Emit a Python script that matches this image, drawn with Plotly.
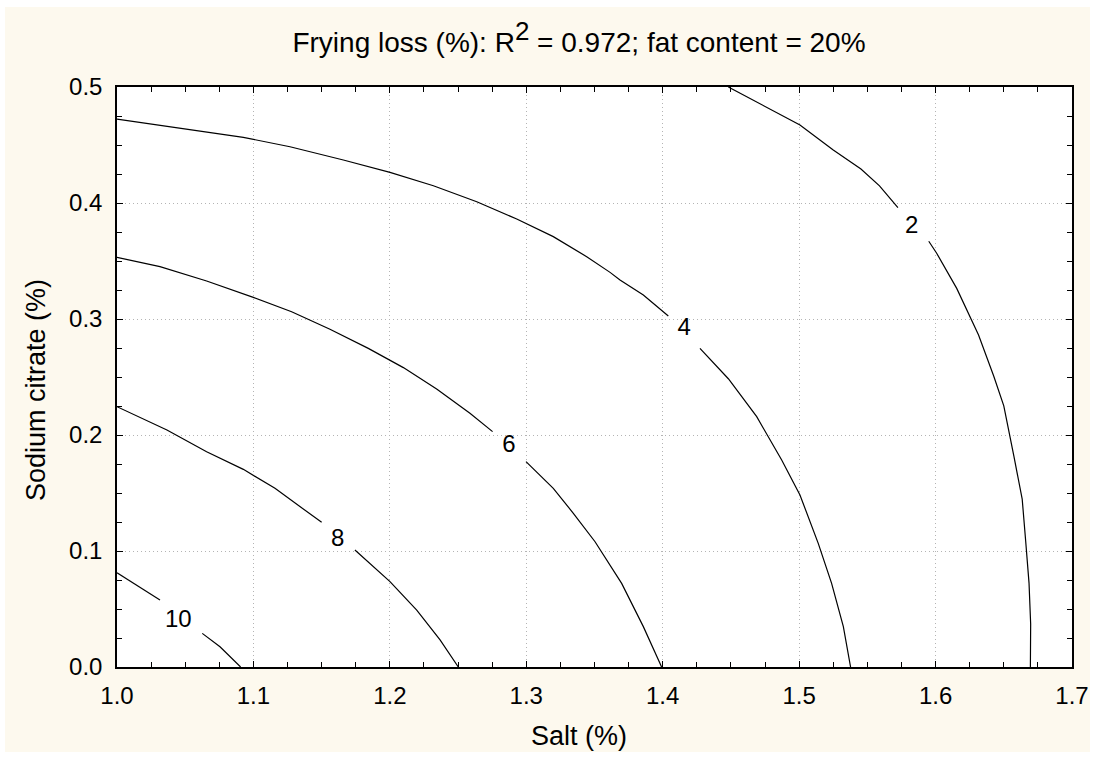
import plotly.graph_objects as go

# ---- data (None = gap for the label) ----
c2_x = [1.4481, 1.5006, 1.5250, 1.5293, 1.5453, 1.5589, 1.5724, None,
        1.5950, 1.6007, 1.6155, 1.6315, 1.6426, 1.6500, 1.6574, 1.6635, 1.6660, 1.6685, 1.6697, 1.6695]
c2_y = [0.5000, 0.4672, 0.4457, 0.4421, 0.4293, 0.4148, 0.3961, None,
        0.3670, 0.3569, 0.3264, 0.2862, 0.2508, 0.2251, 0.1817, 0.1447, 0.1093, 0.0723, 0.0370, 0.0]

c4_x = [1.0000, 1.0926, 1.1268, 1.1659, 1.2001, 1.2319, 1.2637, 1.2930, 1.3198, 1.3443, 1.3614,
        1.3687, 1.3858, 1.4041, None,
        1.4273, 1.4481, 1.4689, 1.4872, 1.5006, 1.5140, 1.5238, 1.5324, 1.5377]
c4_y = [0.4724, 0.4566, 0.4485, 0.4371, 0.4264, 0.4149, 0.4011, 0.3862, 0.3710, 0.3537, 0.3402,
        0.3336, 0.3207, 0.3026, None,
        0.2747, 0.2485, 0.2158, 0.1784, 0.1483, 0.1066, 0.0721, 0.0348, 0.0]

c6_x = [1.0000, 1.0315, 1.0657, 1.0999, 1.1280, 1.1561, 1.1842, 1.2099, 1.2343, 1.2587, 1.2753, None,
        1.2998, 1.3198, 1.3345, 1.3504, 1.3699, 1.3858, 1.3992]
c6_y = [0.3532, 0.3451, 0.3328, 0.3187, 0.3063, 0.2911, 0.2747, 0.2581, 0.2397, 0.2187, 0.2029, None,
        0.1770, 0.1540, 0.1325, 0.1080, 0.0721, 0.0348, 0.0]

c8_x = [1.0000, 1.0366, 1.0657, 1.0926, 1.1158, 1.1341, 1.1500, None,
        1.1744, 1.2001, 1.2197, 1.2368, 1.2502]
c8_y = [0.2244, 0.2043, 0.1856, 0.1704, 0.1540, 0.1382, 0.1247, None,
        0.1009, 0.0736, 0.0491, 0.0233, 0.0]

c10_x = [1.0000, 1.0315, None, 1.0625, 1.0755, 1.0906]
c10_y = [0.0813, 0.0578, None, 0.0290, 0.0175, 0.0]

label_text = ["2", "4", "6", "8", "10"]
label_x = [1.5825, 1.4158, 1.2873, 1.1617, 1.0449]
label_y = [0.3796, 0.2911, 0.1908, 0.1095, 0.0399]

x_range = [1.0, 1.7]
y_range = [0.0, 0.5]

title_text = ("Frying loss (%): R<sup><span style='font-size:26px'>2</span></sup>"
              " = 0.972; fat content = 20%")
x_title = "Salt (%)"
y_title = "Sodium citrate (%)"

# ---- figure ----
FONT = "Liberation Sans, Arial, sans-serif"
BEIGE = "#FDF9EE"
W, H = 1102, 758
ML, MR, MT, MB = 117, 30, 87, 91
pw, ph = W - ML - MR, H - MT - MB


def px2paper_x(px):
    return (px - ML) / pw


def px2paper_y(py):
    return (H - MB - py) / ph


fig = go.Figure()
for xs, ys in [(c2_x, c2_y), (c4_x, c4_y), (c6_x, c6_y), (c8_x, c8_y), (c10_x, c10_y)]:
    fig.add_trace(go.Scatter(x=xs, y=ys, mode="lines", connectgaps=False,
                             line=dict(color="black", width=1.2), hoverinfo="skip",
                             showlegend=False))
fig.add_trace(go.Scatter(x=label_x, y=label_y, mode="text", text=label_text,
                         textfont=dict(family=FONT, size=24, color="black"),
                         showlegend=False, hoverinfo="skip"))

fig.add_shape(type="rect", xref="paper", yref="paper", layer="below",
              x0=px2paper_x(5), x1=px2paper_x(1090), y0=px2paper_y(752), y1=px2paper_y(7),
              fillcolor=BEIGE, line=dict(width=0))
fig.add_shape(type="rect", xref="paper", yref="paper", layer="below",
              x0=0, x1=1, y0=0, y1=1, fillcolor="white", line=dict(width=0))

axis_common = dict(
    showline=True, linecolor="black", linewidth=1.5, mirror="allticks",
    ticks="inside", ticklen=6, tickcolor="black", tickwidth=1,
    showgrid=True, gridcolor="#B4B4B4", griddash="1px,3px", gridwidth=1,
    zeroline=False, tickformat=".1f", dtick=0.1,
    tickfont=dict(family=FONT, size=24, color="black"),
    minor=dict(ticks="inside", ticklen=5, tickcolor="black", dtick=0.025, showgrid=False),
)

fig.add_annotation(text=x_title, xref="paper", yref="paper",
                   x=px2paper_x(579), y=px2paper_y(736), xanchor="center", yanchor="middle",
                   showarrow=False, font=dict(family=FONT, size=27, color="black"))
fig.add_annotation(text=y_title, xref="paper", yref="paper", textangle=-90,
                   x=px2paper_x(36), y=px2paper_y(390), xanchor="center", yanchor="middle",
                   showarrow=False, font=dict(family=FONT, size=27, color="black"))

fig.update_layout(
    width=W, height=H,
    margin=dict(l=ML, r=MR, t=MT, b=MB),
    paper_bgcolor="white", plot_bgcolor="rgba(0,0,0,0)",
    title=dict(text=title_text, x=579 / W, xanchor="center",
               y=1 - 42 / H, yanchor="middle",
               font=dict(family=FONT, size=28, color="black")),
    xaxis=dict(range=x_range, ticklabelstandoff=6, **axis_common),
    yaxis=dict(range=y_range, ticklabelstandoff=8, **axis_common),
)

fig.write_html("out.html")
